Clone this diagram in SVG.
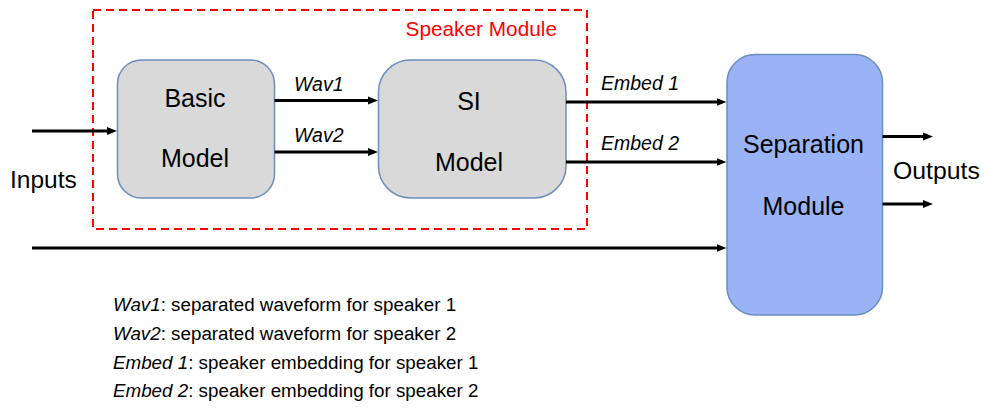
<svg xmlns="http://www.w3.org/2000/svg" width="984" height="410" viewBox="0 0 984 410">
  <defs>
    <marker id="arrow" markerUnits="userSpaceOnUse" markerWidth="11" markerHeight="10" refX="2" refY="5" orient="auto">
      <path d="M0,1 L10,5 L0,9 z" fill="#000"/>
    </marker>
    <style>
      .box-gray { fill: #d9d9d9; stroke: #6c8ebf; stroke-width: 1.5; }
      .box-blue { fill: #9ab3f7; stroke: #6c8ebf; stroke-width: 1.5; }
      .big { font-family: "Liberation Sans", Arial, sans-serif; font-size: 25px; fill: #000; text-anchor: middle; }
      .lbl { font-family: "Liberation Sans", Arial, sans-serif; font-size: 19.5px; font-style: italic; fill: #000; }
      .legend { font-family: "Liberation Sans", Arial, sans-serif; font-size: 18.8px; fill: #000; }
      .conn { stroke: #000; stroke-width: 3; fill: none; marker-end: url(#arrow); }
    </style>
  </defs>
  <rect width="984" height="410" fill="#fff"/>

  <g id="speaker-module">
    <rect x="93" y="10" width="494" height="219" fill="none" stroke="#ff0000" stroke-width="2" stroke-dasharray="8,5"/>
    <text x="557" y="36" text-anchor="end" font-family="'Liberation Sans', Arial, sans-serif" font-size="20.8" fill="#ff0000">Speaker Module</text>
  </g>

  <g id="basic-model">
    <rect class="box-gray" x="117.5" y="60" width="157" height="138" rx="24" ry="24"/>
    <text class="big" x="195" y="107">Basic</text>
    <text class="big" x="195" y="167">Model</text>
  </g>

  <g id="si-model">
    <rect class="box-gray" x="378.5" y="60" width="187.5" height="138" rx="32" ry="32"/>
    <text class="big" x="469" y="110">SI</text>
    <text class="big" x="469" y="171">Model</text>
  </g>

  <g id="separation-module">
    <rect class="box-blue" x="727" y="54.5" width="155.5" height="260.5" rx="28" ry="28"/>
    <text class="big" x="803.5" y="153">Separation</text>
    <text class="big" x="803.5" y="215">Module</text>
  </g>

  <g id="inputs-label">
    <text x="10" y="188" font-family="'Liberation Sans', Arial, sans-serif" font-size="24.5" fill="#000">Inputs</text>
  </g>
  <g id="outputs-label">
    <text x="893" y="179" font-family="'Liberation Sans', Arial, sans-serif" font-size="24.8" fill="#000">Outputs</text>
  </g>

  <g id="connectors">
    <line class="conn" x1="32" y1="131" x2="109" y2="131"/>
    <line class="conn" x1="274.5" y1="100.5" x2="370" y2="100.5"/>
    <line class="conn" x1="274.5" y1="152" x2="370" y2="152"/>
    <line class="conn" x1="566" y1="102" x2="718.5" y2="102"/>
    <line class="conn" x1="566" y1="162" x2="718.5" y2="162"/>
    <line class="conn" x1="32" y1="248" x2="718.5" y2="248"/>
    <line class="conn" x1="882.5" y1="136.5" x2="925" y2="136.5"/>
    <line class="conn" x1="882.5" y1="204" x2="925" y2="204"/>
    <text class="lbl" x="294" y="91">Wav1</text>
    <text class="lbl" x="294" y="142">Wav2</text>
    <text class="lbl" x="601" y="90" font-size="20.5">Embed 1</text>
    <text class="lbl" x="601" y="149.5" font-size="20.5">Embed 2</text>
  </g>

  <g id="legend">
    <text class="legend" x="113" y="310.5"><tspan font-style="italic">Wav1</tspan>: separated waveform for speaker 1</text>
    <text class="legend" x="113" y="339.5"><tspan font-style="italic">Wav2</tspan>: separated waveform for speaker 2</text>
    <text class="legend" x="113" y="368.5"><tspan font-style="italic">Embed 1</tspan>: speaker embedding for speaker 1</text>
    <text class="legend" x="113" y="397"><tspan font-style="italic">Embed 2</tspan>: speaker embedding for speaker 2</text>
  </g>
</svg>
